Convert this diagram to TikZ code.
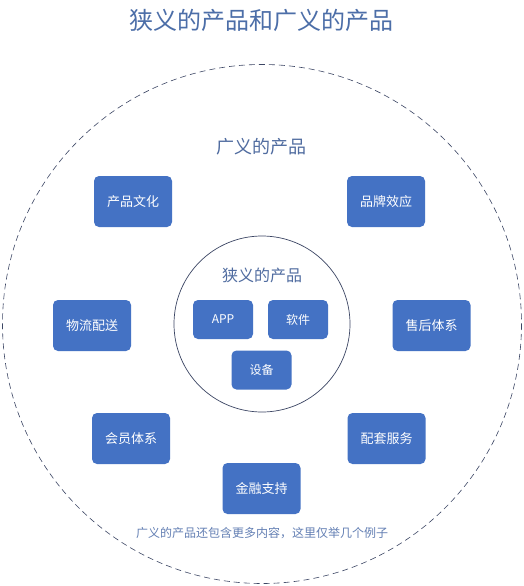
\documentclass[tikz,border=0pt]{standalone}
\usepackage{fontspec}
\setmainfont{Noto Sans CJK SC}
\newfontfamily\cjk{Noto Sans CJK SC}
\definecolor{boxblue}{RGB}{68,114,196}
\definecolor{titleblue}{RGB}{76,110,168}
\definecolor{labelblue}{RGB}{80,108,160}
\definecolor{noteblue}{RGB}{100,128,180}
\definecolor{ringgray}{RGB}{60,70,100}
\tikzset{
  pbox/.style={draw=none, fill=boxblue, rounded corners=5pt, text=white,
    minimum width=78pt, minimum height=51pt, inner sep=0pt, font=\cjk\fontsize{13}{13}\selectfont},
  sbox/.style={draw=none, fill=boxblue, rounded corners=5pt, text=white,
    minimum width=60pt, minimum height=39pt, inner sep=0pt, font=\cjk\fontsize{12}{12}\selectfont},
}
\begin{document}
\begin{tikzpicture}[x=1pt,y=-1pt]
\useasboundingbox[fill=white] (0,0) rectangle (524,586);
\draw[ringgray, dashed, dash pattern=on 6pt off 4pt, line width=0.6pt] (262,324) circle[radius=259.5];
\draw[ringgray, line width=0.7pt] (262,324) circle[radius=88];
\node[text=titleblue, font=\cjk\fontsize{24}{24}\selectfont] (title) at (261,20) {狭义的产品和广义的产品};
\node[text=labelblue, font=\cjk\fontsize{18}{18}\selectfont] (broad) at (261,147) {广义的产品};
\node[text=labelblue, font=\cjk\fontsize{16}{16}\selectfont] (narrow) at (262,275) {狭义的产品};
\node[pbox] (b1) at (133,201.5) {产品文化};
\node[pbox] (b2) at (386,201.5) {品牌效应};
\node[pbox] (b3) at (92,325.5) {物流配送};
\node[pbox] (b4) at (431.5,325.5) {售后体系};
\node[pbox] (b5) at (131,438.5) {会员体系};
\node[pbox] (b6) at (386.5,438.5) {配套服务};
\node[pbox] (b7) at (261.5,488.5) {金融支持};
\node[sbox] (s1) at (223,319.5) {APP};
\node[sbox] (s2) at (298,319.5) {软件};
\node[sbox] (s3) at (261.5,370) {设备};
\node[text=noteblue, font=\cjk\fontsize{12}{12}\selectfont] (note) at (262,533) {广义的产品还包含更多内容，这里仅举几个例子};
\end{tikzpicture}
\end{document}
